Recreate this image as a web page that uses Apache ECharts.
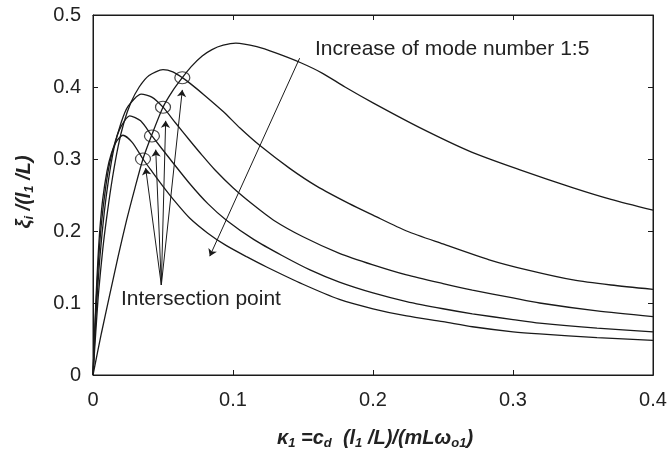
<!DOCTYPE html>
<html>
<head>
<meta charset="utf-8">
<script src="https://cdn.jsdelivr.net/npm/echarts@6/dist/echarts.min.js"></script>
<style>
html, body { margin: 0; padding: 0; background: #fff; }
#main { width: 668px; height: 450px; }
</style>
</head>
<body>
<div id="main"></div>
<script>
// damping ratio xi_i/(l1/L) against kappa_1, modes 1..5
var mode1 = [[0,0],[0.006,0.058],[0.012,0.112],[0.018,0.165],[0.024,0.215],[0.030,0.260],[0.0357,0.300],[0.0421,0.334],[0.05,0.372],[0.057,0.395],[0.0638,0.413],[0.07,0.428],[0.078,0.443],[0.085,0.452],[0.093,0.458],[0.102,0.461],[0.117,0.456],[0.131,0.447],[0.148,0.434],[0.164,0.419],[0.18,0.400],[0.2,0.378],[0.233,0.344],[0.27,0.310],[0.305,0.285],[0.343,0.260],[0.37,0.244],[0.4,0.229]];
var mode2 = [[0,0],[0.002,0.06],[0.004,0.115],[0.007,0.175],[0.010,0.222],[0.014,0.275],[0.018,0.318],[0.022,0.350],[0.027,0.378],[0.033,0.400],[0.040,0.416],[0.05,0.424],[0.057,0.421],[0.0638,0.413],[0.07,0.404],[0.08,0.388],[0.093,0.366],[0.105,0.343],[0.119,0.319],[0.1405,0.287],[0.16,0.262],[0.183,0.238],[0.2,0.222],[0.224,0.200],[0.25,0.182],[0.283,0.160],[0.31,0.146],[0.343,0.132],[0.37,0.125],[0.4,0.119]];
var mode3 = [[0,0],[0.0015,0.06],[0.003,0.11],[0.005,0.165],[0.008,0.225],[0.011,0.27],[0.015,0.315],[0.02,0.35],[0.025,0.373],[0.0345,0.390],[0.042,0.386],[0.05,0.372],[0.059,0.350],[0.069,0.326],[0.078,0.305],[0.087,0.285],[0.1,0.260],[0.114,0.237],[0.129,0.215],[0.15,0.192],[0.176,0.169],[0.2,0.153],[0.224,0.139],[0.25,0.127],[0.271,0.118],[0.3,0.107],[0.319,0.1],[0.36,0.089],[0.4,0.081]];
var mode4 = [[0,0],[0.001,0.05],[0.0025,0.11],[0.004,0.16],[0.006,0.21],[0.009,0.26],[0.012,0.295],[0.016,0.325],[0.02,0.345],[0.0262,0.360],[0.034,0.353],[0.0421,0.332],[0.055,0.300],[0.069,0.266],[0.082,0.238],[0.0953,0.215],[0.115,0.188],[0.135,0.166],[0.155,0.146],[0.176,0.129],[0.2,0.114],[0.224,0.102],[0.25,0.092],[0.271,0.085],[0.3,0.077],[0.319,0.072],[0.36,0.065],[0.4,0.06]];
var mode5 = [[0,0],[0.001,0.05],[0.002,0.1],[0.0035,0.16],[0.005,0.205],[0.007,0.245],[0.01,0.283],[0.013,0.307],[0.017,0.325],[0.0214,0.333],[0.028,0.323],[0.0357,0.300],[0.042,0.283],[0.05,0.262],[0.059,0.240],[0.069,0.218],[0.082,0.197],[0.095,0.18],[0.11,0.164],[0.124,0.150],[0.15,0.126],[0.176,0.105],[0.2,0.092],[0.224,0.082],[0.25,0.074],[0.271,0.067],[0.3,0.060],[0.319,0.057],[0.36,0.052],[0.4,0.048]];

// intersection points (circled) and the annotation arrows
var crossPoints = [[0.0638,0.413],[0.05,0.372],[0.0421,0.332],[0.0357,0.300]];
var arrowFrom = [0.0488,0.125];
var arrowTips = [[0.0638,0.396],[0.0519,0.353],[0.0448,0.313],[0.0376,0.2875]];
var modeArrow = [[0.1476,0.44],[0.0834,0.165]];

var ink = '#1a1a1a';
var font = 'Liberation Sans, Arial, sans-serif';

var chart = echarts.init(document.getElementById('main'));

function curve(d) {
    return {
        type: 'line',
        data: d,
        showSymbol: false,
        smooth: 0.25,
        lineStyle: { color: ink, width: 1.3 },
        silent: true
    };
}

var arrowLines = arrowTips.map(function (t) {
    return [{ coord: arrowFrom }, { coord: t }];
});
arrowLines.push([{ coord: modeArrow[0] }, { coord: modeArrow[1] }]);

var series = [mode1, mode2, mode3, mode4, mode5].map(curve);
series.push({
    type: 'scatter',
    data: crossPoints,
    symbol: 'circle',
    symbolSize: [15, 12],
    itemStyle: { color: 'rgba(0,0,0,0)', borderColor: ink, borderWidth: 1.1 },
    silent: true,
    markLine: {
        silent: true,
        symbol: ['none', 'arrow'],
        symbolSize: 7,
        lineStyle: { color: ink, width: 1, type: 'solid' },
        label: { show: false },
        data: arrowLines
    }
});
// empty series so the mirrored top/right axes get drawn
series.push({ type: 'line', xAxisIndex: 1, yAxisIndex: 1, data: [] });

function axisTick() { return { show: true, inside: true, length: 5, lineStyle: { color: ink, width: 1 } }; }
function axisLine() { return { show: true, onZero: false, lineStyle: { color: ink, width: 1 } }; }
// mirrored axes keep their labels switched on, only invisible
var ghostLabel = { show: true, color: 'rgba(0,0,0,0)', fontSize: 10 };

// axis titles with subscripts, drawn as plain graphic text
var nameStyle = { fontSize: 20, fontWeight: 'bold', fontStyle: 'italic', fontFamily: font, fill: '#222' };
var subStyle = { fontSize: 13, fontWeight: 'bold', fontStyle: 'italic', fontFamily: font, fill: '#222', verticalAlign: 'bottom', lineHeight: 14 };
function title(text, x, y, rot) {
    return {
        type: 'text', x: x, y: y, rotation: rot, silent: true,
        style: {
            text: text, align: 'center', verticalAlign: 'middle',
            fontSize: 20, fontWeight: 'bold', fontStyle: 'italic', fontFamily: font, fill: '#222',
            lineHeight: 24,
            rich: { n: nameStyle, s: subStyle }
        }
    };
}

var labels = [
    { type: 'text', left: 315, top: 39, silent: true,
      style: { text: 'Increase of mode number 1:5', fontSize: 21, fontFamily: font, fill: '#222' } },
    { type: 'text', left: 121, top: 289, silent: true,
      style: { text: 'Intersection point', fontSize: 21, fontFamily: font, fill: '#222' } },
    title('κ{s|1} =c{s|d}  (l{s|1} /L)/(mLω{s|o1})', 375, 438, 0),
    title('ξ{s|i} /(l{s|1} /L)', 24, 192, Math.PI / 2)
];

chart.setOption({
    animation: false,
    grid: { left: 93, right: 15, top: 15, bottom: 75, outerBoundsMode: 'none',
            show: true, borderColor: ink, borderWidth: 1 },
    xAxis: [{
        type: 'value', min: 0, max: 0.4, interval: 0.1,
        axisLine: axisLine(), axisTick: axisTick(), splitLine: { show: false },
        axisLabel: { fontSize: 20, color: '#222', fontFamily: font, margin: 15 }
    }, {
        type: 'value', position: 'top', min: 0, max: 0.4, interval: 0.1,
        axisLine: axisLine(), axisTick: axisTick(), axisLabel: ghostLabel, splitLine: { show: false }
    }],
    yAxis: [{
        type: 'value', min: 0, max: 0.5, interval: 0.1,
        axisLine: axisLine(), axisTick: axisTick(), splitLine: { show: false },
        axisLabel: { fontSize: 20, color: '#222', fontFamily: font, margin: 12 }
    }, {
        type: 'value', position: 'right', min: 0, max: 0.5, interval: 0.1,
        axisLine: axisLine(), axisTick: axisTick(), axisLabel: ghostLabel, splitLine: { show: false }
    }],
    graphic: labels,
    series: series
});

// fallback: top and right edges of the frame, placed through the axes
var tl = chart.convertToPixel({ gridIndex: 0 }, [0, 0.5]);
var br = chart.convertToPixel({ gridIndex: 0 }, [0.4, 0]);
if (tl && br) {
    var x0 = Math.round(tl[0]) + 0.5, y0 = Math.round(tl[1]) + 0.5;
    var x1 = Math.round(br[0]) + 0.5, y1 = Math.round(br[1]) + 0.5;
    var frame = { stroke: ink, lineWidth: 1 };
    chart.setOption({
        graphic: labels.concat([
            { type: 'line', silent: true, shape: { x1: x0, y1: y0, x2: x1, y2: y0 }, style: frame },
            { type: 'line', silent: true, shape: { x1: x1, y1: y0, x2: x1, y2: y1 }, style: frame }
        ])
    });
}
</script>
</body>
</html>
